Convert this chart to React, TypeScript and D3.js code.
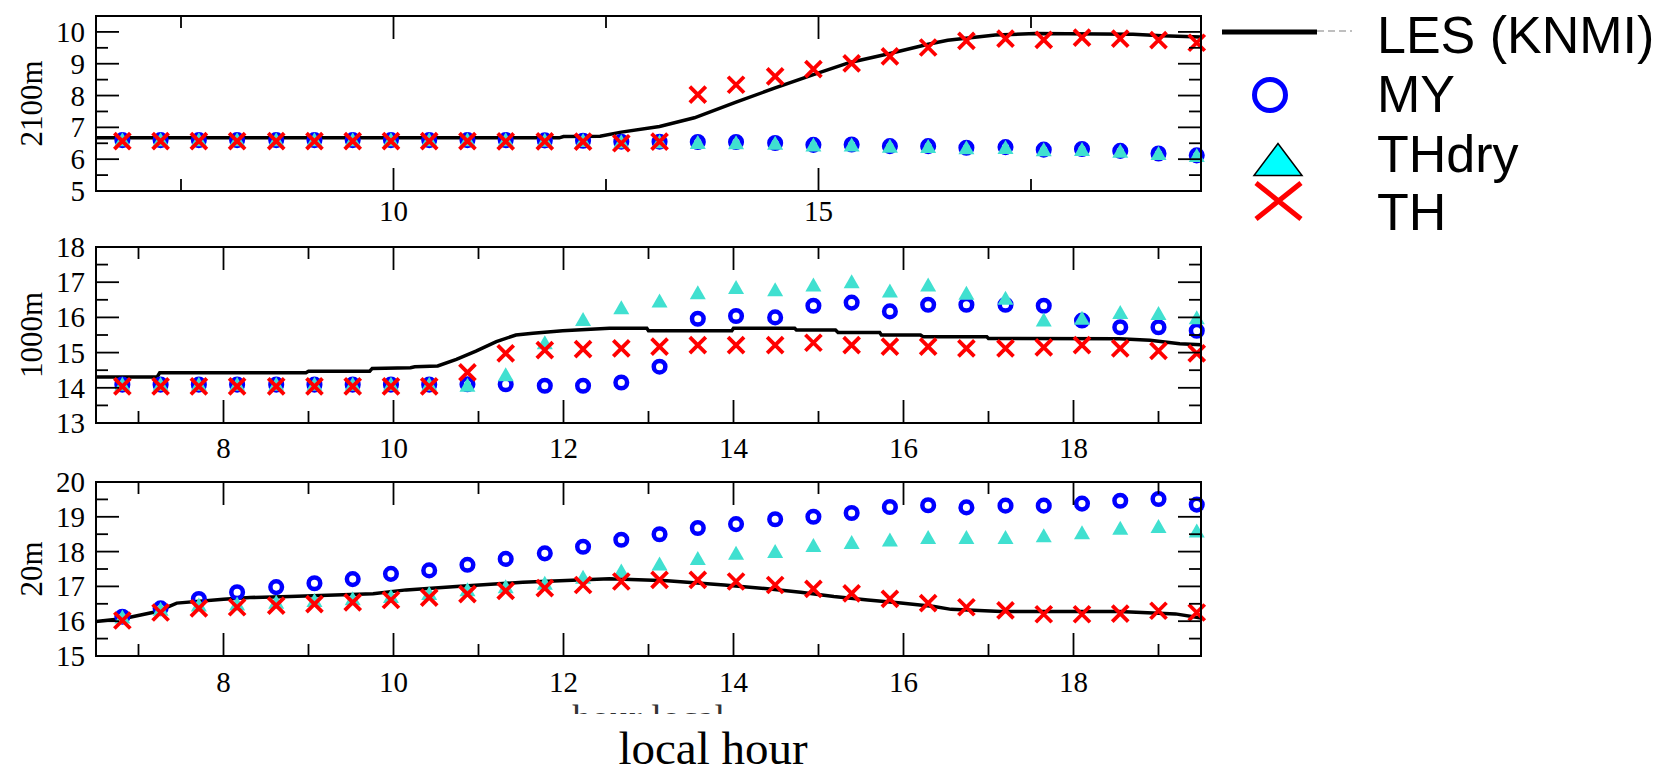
import React from 'react';
import * as d3 from 'd3';

// ---------- data ----------
const hours = [6.81, 7.26, 7.71, 8.16, 8.62, 9.07, 9.52, 9.97, 10.42, 10.87, 11.32, 11.78, 12.23, 12.68, 13.13, 13.58, 14.03, 14.49, 14.94, 15.39, 15.84, 16.29, 16.74, 17.2, 17.65, 18.1, 18.55, 19.0, 19.45];

// 2100 m
const my2100 = [6.6, 6.6, 6.6, 6.6, 6.6, 6.6, 6.6, 6.6, 6.6, 6.6, 6.6, 6.59, 6.58, 6.55, 6.55, 6.54, 6.54, 6.51, 6.45, 6.46, 6.41, 6.41, 6.36, 6.38, 6.3, 6.32, 6.26, 6.18, 6.12];
const thdry2100 = [6.56, 6.56, 6.56, 6.56, 6.56, 6.56, 6.56, 6.56, 6.56, 6.56, 6.56, 6.55, 6.54, 6.5, 6.5, 6.48, 6.47, 6.45, 6.4, 6.4, 6.36, 6.35, 6.31, 6.32, 6.25, 6.26, 6.2, 6.13, 6.07];
const th2100 = [6.57, 6.57, 6.57, 6.57, 6.57, 6.57, 6.57, 6.57, 6.57, 6.57, 6.56, 6.56, 6.55, 6.5, 6.55, 8.03, 8.34, 8.6, 8.83, 9.01, 9.23, 9.51, 9.72, 9.79, 9.75, 9.82, 9.79, 9.74, 9.66];
const lesHours2100 = [6.5, 11.95, 12.0, 12.43, 12.68, 13.13, 13.54, 14.03, 14.49, 14.94, 15.37, 15.84, 16.29, 16.52, 17.08, 17.55, 18.7, 19.04, 19.5];
const les2100 = [6.67, 6.67, 6.71, 6.72, 6.85, 7.03, 7.3, 7.79, 8.24, 8.66, 9.04, 9.32, 9.61, 9.74, 9.9, 9.95, 9.93, 9.88, 9.84];

// 1000 m
const my1000 = [14.09, 14.09, 14.09, 14.09, 14.09, 14.09, 14.09, 14.09, 14.09, 14.1, 14.1, 14.06, 14.06, 14.15, 14.6, 15.96, 16.04, 16.0, 16.33, 16.42, 16.17, 16.36, 16.36, 16.36, 16.33, 15.91, 15.72, 15.72, 15.62];
const thdry1000 = [14.06, 14.06, 14.06, 14.06, 14.06, 14.06, 14.06, 14.06, 14.06, 14.03, 14.33, 15.24, 15.9, 16.23, 16.42, 16.66, 16.81, 16.74, 16.88, 16.97, 16.71, 16.88, 16.64, 16.5, 15.88, 15.93, 16.1, 16.07, 15.95];
const th1000 = [14.04, 14.04, 14.04, 14.04, 14.04, 14.04, 14.04, 14.04, 14.04, 14.44, 14.98, 15.07, 15.1, 15.12, 15.17, 15.21, 15.21, 15.21, 15.28, 15.21, 15.17, 15.17, 15.12, 15.12, 15.15, 15.21, 15.12, 15.05, 14.98];
const lesHours1000 = [6.5, 7.22, 7.25, 8.97, 9.0, 9.72, 9.75, 10.2, 10.25, 10.52, 10.74, 10.97, 11.21, 11.44, 11.64, 11.99, 12.54, 12.98, 13.0, 13.98, 14.0, 14.72, 14.74, 15.2, 15.23, 15.72, 15.74, 16.2, 16.23, 16.98, 17.0, 18.54, 18.9, 19.25, 19.5];
const les1000 = [14.31, 14.31, 14.43, 14.43, 14.47, 14.47, 14.55, 14.57, 14.6, 14.62, 14.81, 15.04, 15.31, 15.5, 15.55, 15.62, 15.69, 15.69, 15.62, 15.62, 15.69, 15.69, 15.64, 15.64, 15.57, 15.57, 15.5, 15.5, 15.45, 15.45, 15.4, 15.39, 15.35, 15.25, 15.22];

// 20 m
const my20 = [16.13, 16.37, 16.64, 16.83, 16.98, 17.09, 17.21, 17.36, 17.46, 17.62, 17.79, 17.95, 18.14, 18.34, 18.5, 18.68, 18.79, 18.93, 19.0, 19.11, 19.28, 19.33, 19.27, 19.32, 19.32, 19.38, 19.46, 19.51, 19.35];
const thdry20 = [16.08, 16.3, 16.42, 16.45, 16.5, 16.55, 16.6, 16.67, 16.75, 16.86, 16.95, 17.05, 17.22, 17.4, 17.6, 17.76, 17.91, 17.96, 18.13, 18.22, 18.29, 18.36, 18.36, 18.36, 18.41, 18.5, 18.63, 18.68, 18.55];
const th20 = [16.02, 16.25, 16.37, 16.4, 16.45, 16.49, 16.54, 16.61, 16.68, 16.78, 16.87, 16.95, 17.04, 17.14, 17.19, 17.19, 17.14, 17.04, 16.93, 16.8, 16.64, 16.52, 16.4, 16.31, 16.2, 16.2, 16.22, 16.3, 16.25];
const lesHours20 = [6.5, 6.83, 7.22, 7.45, 8.0, 8.31, 8.78, 9.76, 10.15, 10.74, 11.52, 12.54, 13.22, 13.89, 14.4, 14.79, 15.18, 15.58, 15.97, 16.36, 16.56, 17.15, 18.54, 19.2, 19.5];
const les20 = [15.99, 16.08, 16.28, 16.52, 16.63, 16.68, 16.71, 16.79, 16.9, 17.0, 17.12, 17.22, 17.16, 17.04, 16.93, 16.83, 16.71, 16.61, 16.52, 16.42, 16.34, 16.28, 16.28, 16.21, 16.09];

// axes / ticks
const xDomain = [6.5, 19.5];
const xMajor1 = [10, 15];
const xMinor1 = [7.5, 12.5, 17.5];
const xMajor23 = [8, 10, 12, 14, 16, 18];
const xMinor23 = [7, 9, 11, 13, 15, 17, 19];
const yDomain2100 = [5, 10.5];
const yDomain1000 = [13, 18];
const yDomain20 = [15, 20];
const yMajor2100 = [5, 6, 7, 8, 9, 10];
const yMinor2100 = [5.5, 6.5, 7.5, 8.5, 9.5];
const yMajor1000 = [13, 14, 15, 16, 17, 18];
const yMinor1000 = [13.5, 14.5, 15.5, 16.5, 17.5];
const yMajor20 = [15, 16, 17, 18, 19, 20];
const yMinor20 = [15.5, 16.5, 17.5, 18.5, 19.5];
const panelTitles = ['2100m', '1000m', '20m'];
const legendLabels = ['LES (KNMI)', 'MY', 'THdry', 'TH'];
const xTitle = 'local hour';
const hiddenTitle = 'hour local';

// ---------- layout ----------
const W = 1663;
const H = 772;
const LEFT = 96;
const RIGHT = 1201;
const panelsBox = [
  { top: 16, bottom: 191, labelOffset: 30 },
  { top: 247, bottom: 423, labelOffset: 35 },
  { top: 482, bottom: 656, labelOffset: 36 },
];
const SERIF = '"Liberation Serif", "Times New Roman", serif';
const SANS = '"Liberation Sans", Arial, sans-serif';
const BLUE = '#0000ff';
const RED = '#ff0000';
const CYAN = '#40e0d0';

const panels = [
  { title: panelTitles[0], yDomain: yDomain2100, yMajor: yMajor2100, yMinor: yMinor2100, xMajor: xMajor1, xMinor: xMinor1, my: my2100, thdry: thdry2100, th: th2100, lesH: lesHours2100, les: les2100 },
  { title: panelTitles[1], yDomain: yDomain1000, yMajor: yMajor1000, yMinor: yMinor1000, xMajor: xMajor23, xMinor: xMinor23, my: my1000, thdry: thdry1000, th: th1000, lesH: lesHours1000, les: les1000 },
  { title: panelTitles[2], yDomain: yDomain20, yMajor: yMajor20, yMinor: yMinor20, xMajor: xMajor23, xMinor: xMinor23, my: my20, thdry: thdry20, th: th20, lesH: lesHours20, les: les20 },
];

const x = d3.scaleLinear().domain(xDomain).range([LEFT, RIGHT]);

const MAJ = 23;
const MIN = 12;

function Panel({ p, box }: { p: any; box: { top: number; bottom: number; labelOffset: number } }) {
  const y = d3.scaleLinear().domain(p.yDomain).range([box.bottom, box.top]);
  const line = d3
    .line<number>()
    .x((_, i) => x(p.lesH[i]))
    .y((d) => y(d));
  const tickStroke = { stroke: '#000', strokeWidth: 1.8 };
  return (
    <g>
      {/* LES line */}
      <path d={line(p.les) || ''} fill="none" stroke="#000" strokeWidth={3.5} />
      {/* MY circles */}
      {hours.map((h, i) => (
        <circle key={'c' + i} cx={x(h)} cy={y(p.my[i])} r={5.8} fill="none" stroke={BLUE} strokeWidth={4.5} />
      ))}
      {/* THdry triangles */}
      {hours.map((h, i) => {
        const cx = x(h);
        const cy = y(p.thdry[i]);
        return <path key={'t' + i} d={`M${cx},${cy - 9}L${cx - 8},${cy + 5}L${cx + 8},${cy + 5}Z`} fill={CYAN} />;
      })}
      {/* TH crosses */}
      {hours.map((h, i) => {
        const cx = x(h);
        const cy = y(p.th[i]);
        const s = 8;
        return (
          <path key={'x' + i} d={`M${cx - s},${cy - s}L${cx + s},${cy + s}M${cx - s},${cy + s}L${cx + s},${cy - s}`} stroke={RED} strokeWidth={3.8} fill="none" />
        );
      })}
      {/* frame */}
      <rect x={LEFT} y={box.top} width={RIGHT - LEFT} height={box.bottom - box.top} fill="none" stroke="#000" strokeWidth={2} />
      {/* x ticks */}
      {p.xMajor.map((t: number) => (
        <g key={'xm' + t}>
          <line x1={x(t)} x2={x(t)} y1={box.bottom} y2={box.bottom - MAJ} {...tickStroke} />
          <line x1={x(t)} x2={x(t)} y1={box.top} y2={box.top + MAJ} {...tickStroke} />
          <text x={x(t)} y={box.bottom + box.labelOffset} textAnchor="middle" fontFamily={SERIF} fontSize={29} fill="#000">
            {t}
          </text>
        </g>
      ))}
      {p.xMinor.map((t: number) => (
        <g key={'xn' + t}>
          <line x1={x(t)} x2={x(t)} y1={box.bottom} y2={box.bottom - MIN} {...tickStroke} />
          <line x1={x(t)} x2={x(t)} y1={box.top} y2={box.top + MIN} {...tickStroke} />
        </g>
      ))}
      {/* y ticks */}
      {p.yMajor.map((t: number) => (
        <g key={'ym' + t}>
          <line x1={LEFT} x2={LEFT + MAJ} y1={y(t)} y2={y(t)} {...tickStroke} />
          <line x1={RIGHT} x2={RIGHT - MAJ} y1={y(t)} y2={y(t)} {...tickStroke} />
          <text x={85} y={y(t) + 10} textAnchor="end" fontFamily={SERIF} fontSize={29} fill="#000">
            {t}
          </text>
        </g>
      ))}
      {p.yMinor.map((t: number) => (
        <g key={'yn' + t}>
          <line x1={LEFT} x2={LEFT + MIN} y1={y(t)} y2={y(t)} {...tickStroke} />
          <line x1={RIGHT} x2={RIGHT - MIN} y1={y(t)} y2={y(t)} {...tickStroke} />
        </g>
      ))}
      {/* y title */}
      <text
        transform={`translate(42,${(box.top + box.bottom) / 2}) rotate(-90)`}
        textAnchor="middle"
        fontFamily={SERIF}
        fontSize={31}
        fill="#000"
      >
        {p.title}
      </text>
    </g>
  );
}

function Legend() {
  const tx = 1377;
  const baselines = [53, 112, 172, 230];
  return (
    <g>
      <line x1={1222} x2={1317} y1={32} y2={32} stroke="#000" strokeWidth={5} />
      <line x1={1317} x2={1352} y1={31} y2={31} stroke="#aaa" strokeWidth={1.5} strokeDasharray="7 4" />
      <circle cx={1270} cy={95} r={15.5} fill="none" stroke={BLUE} strokeWidth={5} />
      <path d="M1278,143.5L1254,175.5L1302,175.5Z" fill="#00ffff" stroke="#000" strokeWidth={1.5} />
      <path d="M1256,183L1301,219M1256,219L1301,183" stroke={RED} strokeWidth={5} fill="none" />
      {legendLabels.map((l, i) => (
        <text key={l} x={tx} y={baselines[i]} fontFamily={SANS} fontSize={52} fill="#000">
          {l}
        </text>
      ))}
    </g>
  );
}

export default function App() {
  return (
    <svg width={W} height={H} style={{ position: 'absolute', left: 0, top: 0, background: '#fff' }}>
      <rect x={0} y={0} width={W} height={H} fill="#fff" />
      <defs>
        <clipPath id="hiddenClip">
          <rect x={0} y={0} width={W} height={714} />
        </clipPath>
      </defs>
      {panels.map((p, i) => (
        <Panel key={p.title} p={p} box={panelsBox[i]} />
      ))}
      <g clipPath="url(#hiddenClip)">
        <text x={572} y={731} fontFamily={SERIF} fontSize={38} fill="#333">
          {hiddenTitle}
        </text>
      </g>
      <text x={713} y={764} textAnchor="middle" fontFamily={SERIF} fontSize={47} fill="#000">
        {xTitle}
      </text>
      <Legend />
    </svg>
  );
}
